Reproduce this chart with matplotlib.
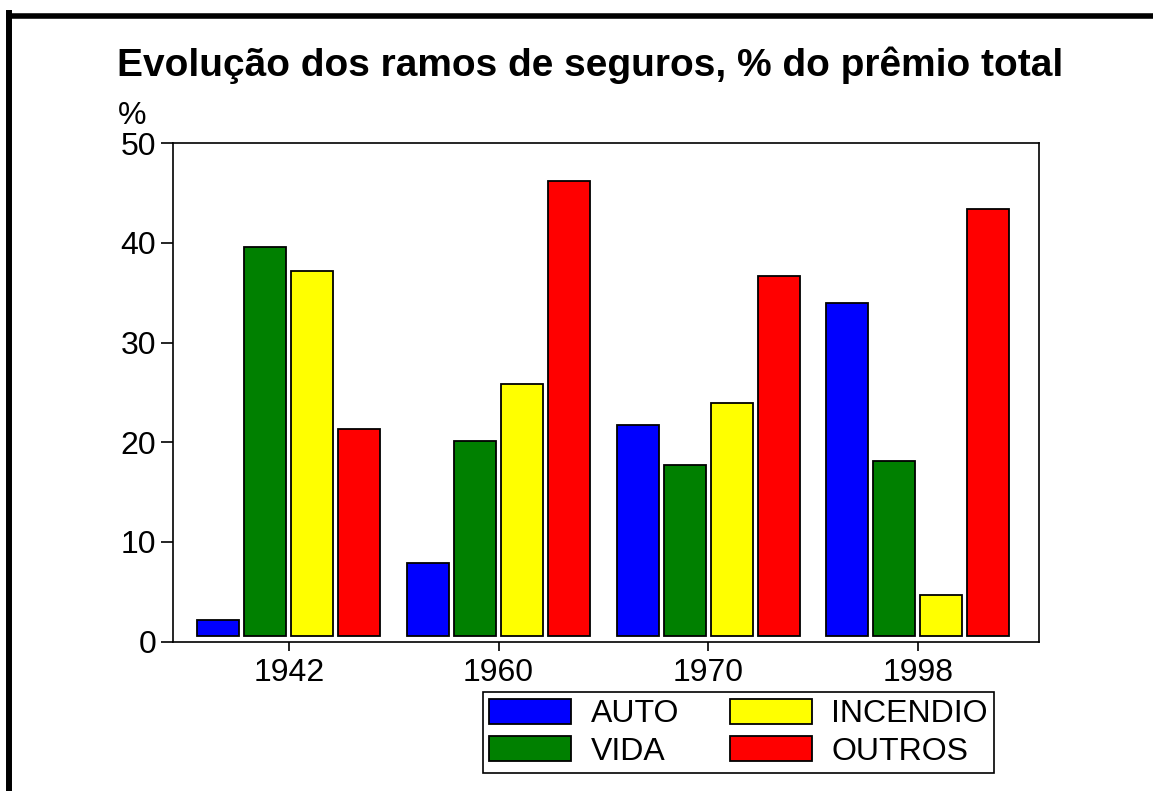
import numpy as np
import matplotlib
matplotlib.use("Agg")
import matplotlib.pyplot as plt
from matplotlib.lines import Line2D

plt.rcParams["font.family"] = ["Liberation Sans", "DejaVu Sans"]

# values (% of total premium)
years = ["1942", "1960", "1970", "1998"]
auto = [2.2, 7.9, 21.7, 34.0]
vida = [39.6, 20.1, 17.7, 18.1]
incendio = [37.2, 25.9, 23.9, 4.7]
outros = [21.3, 46.2, 36.7, 43.4]

series = [
    ("AUTO", auto, "#0000ff"),
    ("VIDA", vida, "#008000"),
    ("INCENDIO", incendio, "#ffff00"),
    ("OUTROS", outros, "#ff0000"),
]

BASE = 0.55   # bars sit slightly above the zero line in the original
STEP = 0.224
WIDTH = 0.20
FS = 23

fig = plt.figure(figsize=(11.53, 7.91), dpi=100)
ax = fig.add_axes([0.150, 0.1888, 0.751, 0.630])

x = np.arange(len(years))
handles = {}
for i, (name, vals, color) in enumerate(series):
    off = (i - 1.5) * STEP
    h = ax.bar(x + off, np.array(vals) - BASE, bottom=BASE, width=WIDTH,
               color=color, edgecolor="black", linewidth=1.3, label=name)
    handles[name] = h

ax.set_xlim(-0.553, 3.577)
ax.set_ylim(0, 50)
ax.set_yticks([0, 10, 20, 30, 40, 50])
ax.set_xticks(x)
ax.set_xticklabels(years)
ax.tick_params(axis="y", length=9, width=1.2, pad=3, labelsize=FS)
ax.tick_params(axis="x", length=6.5, width=1.2, pad=5, labelsize=FS)
for sp in ax.spines.values():
    sp.set_linewidth(1.2)

fig.text(132 / 1153, 1 - 116 / 791, "%", ha="center", va="center", fontsize=FS)
fig.text(590 / 1153, 1 - 76 / 791, "Evolução dos ramos de seguros, % do prêmio total",
         ha="center", va="baseline", fontsize=28, fontweight="bold")

order = ["AUTO", "VIDA", "INCENDIO", "OUTROS"]
leg = fig.legend([handles[n] for n in order], order, ncol=2,
                 loc="lower left", bbox_to_anchor=(483 / 1153, 18 / 791),
                 fontsize=FS, handlelength=2.57, handleheight=0.85,
                 handletextpad=0.6, columnspacing=1.6, labelspacing=0.2,
                 borderpad=0.2, borderaxespad=0, fancybox=False,
                 edgecolor="black", framealpha=1)
leg.get_frame().set_linewidth(1.2)

# thick frame on the left and top edges of the picture
fig.add_artist(Line2D([9 / 1153, 9 / 1153], [0, 1 - 13 / 791],
                      transform=fig.transFigure, color="black", lw=4.3,
                      solid_capstyle="projecting"))
fig.add_artist(Line2D([9 / 1153, 1], [1 - 15.5 / 791, 1 - 15.5 / 791],
                      transform=fig.transFigure, color="black", lw=4.0,
                      solid_capstyle="projecting"))

fig.savefig("out.png", dpi=100)
